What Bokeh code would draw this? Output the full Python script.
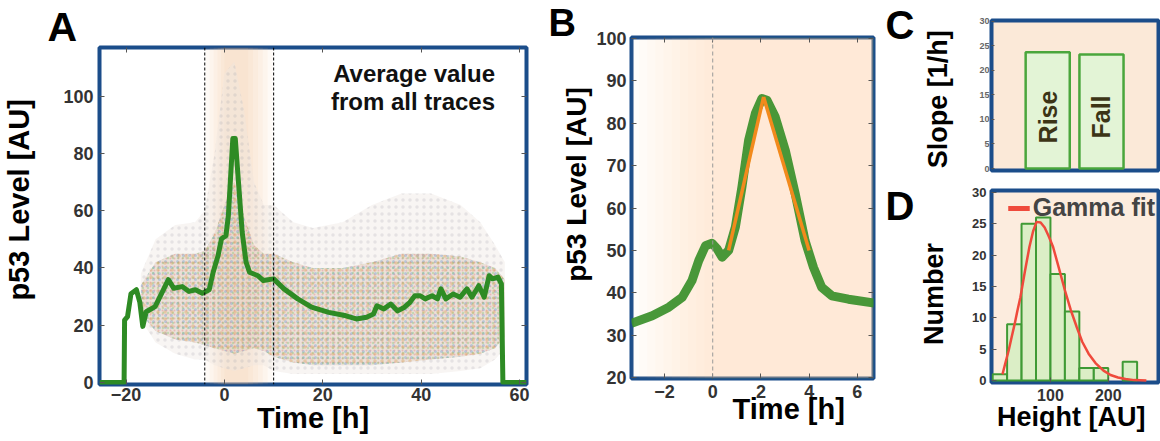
import numpy as np
from bokeh.plotting import figure
from bokeh.layouts import row, column
from bokeh.models import Range1d, LinearAxis, FixedTicker, Span, Legend, LegendItem
from bokeh.embed import file_html
from bokeh.resources import INLINE
from bokeh.core.properties import value

# ---------------- data ----------------
# Panel A: mean p53 trace
a_time = [-25.4, -20.4, -20.3, -19.7, -19.0, -17.9, -17.2, -16.6, -15.9, -14.1, -13.1, -11.4, -10.3,
          -8.6, -7.2, -5.9, -4.5, -3.1, -2.3, -1.3, -0.6, 0.3, 0.8, 1.7, 2.2, 2.9, 3.6, 4.4, 5.1,
          6.8, 7.9, 10.0, 12.1, 14.9, 17.7, 21.2, 24.7, 26.8, 28.9, 30.3, 31.0, 32.4, 33.8, 35.2,
          36.6, 37.7, 38.7, 39.8, 40.8, 42.2, 43.3, 44.0, 45.0, 46.5, 47.9, 49.3, 50.3, 51.7, 52.8,
          53.8, 54.5, 55.6, 56.3, 56.6, 61.4]
a_mean = [0, 0, 21.8, 23.0, 31.0, 32.4, 28.0, 19.6, 24.7, 26.5, 30.0, 35.9, 32.9,
          33.5, 31.8, 32.4, 31.2, 32.4, 38.5, 44.3, 50.2, 51.3, 58.3, 85.2, 85.2, 68.8, 52.5, 42.0, 38.5,
          37.3, 35.6, 36.2, 32.7, 29.2, 26.3, 24.5, 23.3, 22.2, 22.8, 23.9, 26.8, 25.7, 27.4, 25.0,
          26.3, 28.0, 30.3, 30.3, 29.2, 30.3, 29.2, 32.7, 29.2, 30.9, 29.8, 32.7, 29.8, 33.8, 29.8,
          37.3, 36.2, 36.8, 34.4, 0, 0]
# envelope of all single-cell traces (read from the point cloud)
cloud_t = [-17, -14, -10, -6, -4, -2, 0, 2, 4, 6, 8, 10, 14, 18, 24, 30, 36, 42, 48, 52, 55, 57]
cloud_outer_lo = [22, 14, 10, 8, 8, 6, 5, 4, 5, 6, 6, 4, 3, 3, 3, 3, 3, 3, 4, 5, 8, 12]
cloud_outer_hi = [38, 50, 55, 56, 60, 80, 108, 112, 95, 70, 62, 62, 56, 54, 56, 62, 66, 66, 62, 56, 48, 42]
cloud_core_lo = [24, 18, 15, 14, 13, 12, 11, 10, 11, 12, 11, 9, 7, 6, 6, 6, 7, 8, 9, 10, 12, 16]
cloud_core_hi = [34, 42, 45, 45, 46, 52, 62, 70, 58, 48, 45, 45, 42, 40, 40, 42, 45, 45, 44, 42, 40, 36]
a_window = [-4, 10]
a_shade_start = [-3.8, -3.0, -2.2, -1.4, -0.7, 0.0]
a_shade_end = [9.8, 8.8, 7.8, 6.8, 5.8, 4.8]
a_note = ["Average value", "from all traces"]
a_xticks = [-20, 0, 20, 40, 60]
a_yticks = [0, 20, 40, 60, 80, 100]

# Panel B: zoom on the pulse
b_time = [-3.37, -2.51, -1.82, -1.27, -0.86, -0.58, -0.30, -0.03, 0.18, 0.39, 0.66, 0.94, 1.21,
          1.49, 1.77, 2.04, 2.25, 2.59, 3.01, 3.42, 3.83, 4.18, 4.52, 4.94, 5.63, 6.70]
b_mean = [32.8, 34.6, 36.6, 38.9, 42.9, 47.6, 51.1, 51.7, 50.4, 48.4, 50.0, 55.5, 64.9,
          76.0, 82.3, 85.8, 85.4, 81.5, 73.6, 63.4, 52.3, 46.0, 41.3, 39.3, 38.5, 37.6]
rise_fit_t = [0.66, 2.11]
rise_fit_y = [50, 86.2]
fall_fit_t = [2.11, 4.0]
fall_fit_y = [86.2, 50]
b_shade_start = [-3.4, -3.06, -2.72, -2.38, -2.04, -1.7, -1.36, -1.02, -0.68, -0.34, 0.0]
b_xticks = [-2, 0, 2, 4, 6]
b_yticks = [20, 30, 40, 50, 60, 70, 80, 90, 100]

# Panel C: slopes
c_labels = ["Rise", "Fall"]
c_pos = [1, 2]
c_values = [23.7, 23.2]
c_yticks = [0, 5, 10, 15, 20, 25, 30]

# Panel D: histogram of pulse heights
d_left = [0, 25, 50, 75, 100, 125, 150, 175, 225]
d_right = [25, 50, 75, 100, 125, 150, 175, 200, 250]
d_count = [1, 9, 25, 26, 17, 11, 2, 2, 3]
d_fit_x = [17, 22, 27.7, 33, 38, 43, 48, 56, 63.6, 70, 76, 83, 90, 97, 104.6, 115, 125, 135,
           145.6, 155, 166, 178, 191.8, 204, 217, 230, 245, 266]
d_fit_y = [1.0, 2.8, 4.8, 7.0, 9.0, 11.2, 13.3, 17.5, 21.3, 23.8, 25.3, 25.2, 24.4, 23.0,
           21.3, 17.8, 14.4, 11.3, 8.5, 6.2, 4.3, 2.8, 1.6, 0.9, 0.5, 0.25, 0.08, 0.0]
d_xticks = [100, 200]
d_yticks = [0, 5, 10, 15, 20, 25, 30]

# panel letters / side labels that live in narrow strips (strip pixel coordinates, y up)
strip_letters = ["C", "D"]
strip_letter_x = [5, 5]
strip_letter_y = [417, 236]
b_strip_letter = ["B"]
b_strip_letter_x = [8]
b_strip_letter_y = [419]
b_strip_label = ["p53 Level [AU]"]
b_strip_label_x = [36]
b_strip_label_y = [257]

# ---------------- style ----------------
FONT = "Liberation Sans"
BLUE = "#1b4d8a"
GREEN = "#2e8b24"
PEACH = "#f3bd88"
NB = "\u00a0"


def safe_set(obj, **kw):
    for k, v in kw.items():
        try:
            setattr(obj, k, v)
        except Exception:
            pass


def base_style(p, xticks, yticks, tick_size, label_size, xlab, ylab,
               x_std, x_lab_std, y_std, y_lab_std, tick_color="#333333"):
    p.outline_line_color = BLUE
    p.outline_line_width = 4
    p.grid.visible = False
    p.background_fill_color = "white"
    p.border_fill_color = "white"
    p.xaxis.ticker = FixedTicker(ticks=xticks)
    p.yaxis.ticker = FixedTicker(ticks=yticks)
    for ax in (p.xaxis[0], p.yaxis[0]):
        ax.axis_line_color = None
        ax.major_tick_in = 5
        ax.major_tick_out = 0
        ax.major_tick_line_color = "#555555"
        ax.minor_tick_line_color = None
        ax.major_label_text_font = FONT
        ax.major_label_text_font_style = "bold"
        ax.major_label_text_font_size = tick_size
        ax.major_label_text_color = tick_color
        ax.axis_label_text_font = FONT
        ax.axis_label_text_font_style = "bold"
        ax.axis_label_text_font_size = label_size
        ax.axis_label_text_color = "black"
        safe_set(ax, axis_label_text_line_height=1.0, major_label_text_line_height=1.0)
    p.xaxis.axis_label = xlab
    p.yaxis.axis_label = ylab
    p.xaxis.major_label_standoff = x_std
    p.xaxis.axis_label_standoff = x_lab_std
    p.yaxis.major_label_standoff = y_std
    p.yaxis.axis_label_standoff = y_lab_std


def mirror_ticks(p, xticks, yticks):
    for ticks, side in ((xticks, "above"), (yticks, "right")):
        ax = LinearAxis(ticker=FixedTicker(ticks=ticks), major_label_text_alpha=0,
                        major_label_text_font_size="1px", major_label_standoff=0,
                        major_tick_in=5, major_tick_out=0, minor_tick_line_color=None,
                        axis_line_color=None, major_tick_line_color="#555555")
        p.add_layout(ax, side)


def strip_figure(width):
    s = figure(width=width, height=441, x_range=Range1d(0, width), y_range=Range1d(0, 441),
               output_backend="svg", toolbar_location=None,
               min_border_left=0, min_border_right=0, min_border_top=0, min_border_bottom=0)
    s.axis.visible = False
    s.grid.visible = False
    s.outline_line_color = None
    return s


# ---------------- Panel A ----------------
pA = figure(width=540, height=441, x_range=Range1d(-25.4, 61.4), y_range=Range1d(-0.7, 117),
            output_backend="svg", toolbar_location=None,
            min_border_left=95, min_border_right=14, min_border_top=47, min_border_bottom=57)
base_style(pA, a_xticks, a_yticks, "18px", "29px", "Time [h]", NB * 4 + "p53 Level [AU]",
           3, -2, 6, 25)
mirror_ticks(pA, a_xticks, a_yticks)
pA.title.text = "A"
pA.title.align = "left"
pA.title.offset = -52
pA.title.text_font = FONT
pA.title.text_font_style = "bold"
pA.title.text_font_size = "41px"
pA.title.text_color = "black"
safe_set(pA.title, standoff=-4)

for s, e in zip(a_shade_start, a_shade_end):
    pA.quad(left=[s], right=[e], bottom=[-0.7], top=[117], fill_color=PEACH, fill_alpha=0.08,
            line_color=None)

pA.varea(x=cloud_t, y1=cloud_outer_lo, y2=cloud_outer_hi, fill_color="#ede5e0", fill_alpha=0.4)
pA.varea(x=cloud_t, y1=cloud_outer_lo, y2=cloud_outer_hi, fill_color=None, fill_alpha=0,
         hatch_pattern=".", hatch_color="#a0a0a8", hatch_alpha=0.22, hatch_scale=7, hatch_weight=1)
pA.varea(x=cloud_t, y1=cloud_core_lo, y2=cloud_core_hi, fill_color="#ddcdc0", fill_alpha=0.5)
for col, sc in (("#e0606a", 4), ("#4a8fd8", 6), ("#6cbf5c", 5), ("#f0a040", 7)):
    pA.varea(x=cloud_t, y1=cloud_core_lo, y2=cloud_core_hi, fill_color=None, fill_alpha=0,
             hatch_pattern=".", hatch_color=col, hatch_alpha=0.3, hatch_scale=sc, hatch_weight=1)

for w in a_window:
    pA.add_layout(Span(location=w, dimension="height", line_color="black", line_width=1,
                       line_dash="3 2"))

pA.line(a_time, a_mean, line_color=GREEN, line_width=5, line_join="round")

pA.text(x=[55, 55], y=[108, 98.3], text=a_note, text_font=value(FONT), text_font_style="bold",
        text_font_size="24px", text_align="right", text_baseline="middle", text_color="#111111")

# ---------------- strip with B letter and B y label ----------------
pSB = strip_figure(53)
pSB.text(x=b_strip_letter_x, y=b_strip_letter_y, text=b_strip_letter, text_font=value(FONT),
         text_font_style="bold", text_font_size="38px", text_align="left",
         text_baseline="alphabetic", text_color="black")
pSB.text(x=b_strip_label_x, y=b_strip_label_y, text=b_strip_label, angle=np.pi / 2,
         text_font=value(FONT), text_font_style="bold", text_font_size="28px",
         text_align="center", text_baseline="middle", text_color="black")

# ---------------- Panel B ----------------
pB = figure(width=287, height=441, x_range=Range1d(-3.37, 6.67), y_range=Range1d(19.8, 100.2),
            output_backend="svg", toolbar_location=None,
            min_border_left=36, min_border_right=7, min_border_top=37, min_border_bottom=63)
base_style(pB, b_xticks, b_yticks, "18px", "29px", NB * 9 + "Time [h]", "",
           6, -8, 5, 0)
mirror_ticks(pB, b_xticks, b_yticks)

for s in b_shade_start:
    pB.quad(left=[s], right=[6.67], bottom=[19.8], top=[100.2], fill_color="#f5c08e",
            fill_alpha=0.04, line_color=None)
pB.add_layout(Span(location=0, dimension="height", line_color="#999999", line_width=1,
                   line_dash="4 3"))
pB.line(b_time, b_mean, line_color="#3a8f2a", line_width=9, line_alpha=0.92, line_join="round")
pB.line(rise_fit_t, rise_fit_y, line_color="#f28a1c", line_width=3.5)
pB.line(fall_fit_t, fall_fit_y, line_color="#f28a1c", line_width=3.5)

# ---------------- letter strip for C / D ----------------
pL = strip_figure(36)
pL.text(x=strip_letter_x, y=strip_letter_y, text=strip_letters, text_font=value(FONT),
        text_font_style="bold", text_font_size="40px", text_align="left",
        text_baseline="alphabetic", text_color="black")

# ---------------- Panel C ----------------
pC = figure(width=244, height=180, x_range=Range1d(-0.045, 3.06), y_range=Range1d(-0.4, 30.15),
            output_backend="svg", toolbar_location=None,
            min_border_left=71, min_border_right=2, min_border_top=20, min_border_bottom=10)
base_style(pC, [], c_yticks, "9px", "27px", "", "Slope [1/h]" + NB, 3, 0, 2, 23,
           tick_color="#666666")
pC.xaxis.visible = False
pC.yaxis.major_tick_in = 3
pC.background_fill_color = "#fbe9d8"
pC.vbar(x=c_pos, top=c_values, width=0.82, bottom=0, fill_color="#e3f4d6", line_color="#4aa63c",
        line_width=2.5)
pC.text(x=c_pos, y=[10.5, 10.5], text=c_labels, angle=np.pi / 2, text_font=value(FONT),
        text_font_style="bold", text_font_size="25px", text_align="center",
        text_baseline="middle", text_color="#3c3416")

# ---------------- Panel D ----------------
pD = figure(width=244, height=261, x_range=Range1d(-2, 287), y_range=Range1d(-0.3, 30.3),
            output_backend="svg", toolbar_location=None,
            min_border_left=56, min_border_right=0, min_border_top=10, min_border_bottom=59)
base_style(pD, d_xticks, d_yticks, "16px", "27px", "Height [AU]" + NB, "Number" + NB * 2,
           6, -2, 5, 20)
pD.yaxis.major_label_text_font_size = "13px"
pD.background_fill_color = "#fcecde"
pD.quad(left=d_left, right=d_right, bottom=0, top=d_count, fill_color="#d2efbf", fill_alpha=0.8,
        line_color="#3f9a35", line_width=2)
fit_r = pD.line(d_fit_x, d_fit_y, line_color="#ef4a3c", line_width=2.5)
leg_r = pD.line(x=[np.nan], y=[np.nan], line_color="#ef4a3c", line_width=5)
legend = Legend(items=[LegendItem(label="Gamma fit", renderers=[leg_r])], location="top_right",
                border_line_color=None, background_fill_alpha=0, label_text_font=FONT,
                label_text_font_style="bold", label_text_font_size="25px", glyph_width=22,
                glyph_height=20, label_standoff=3, padding=0, margin=3, spacing=0)
pD.add_layout(legend)

layout = row(column(pA), column(pSB), column(pB), row(column(pL), column(pC, pD)))
open("out.html", "w").write(file_html(layout, INLINE))
